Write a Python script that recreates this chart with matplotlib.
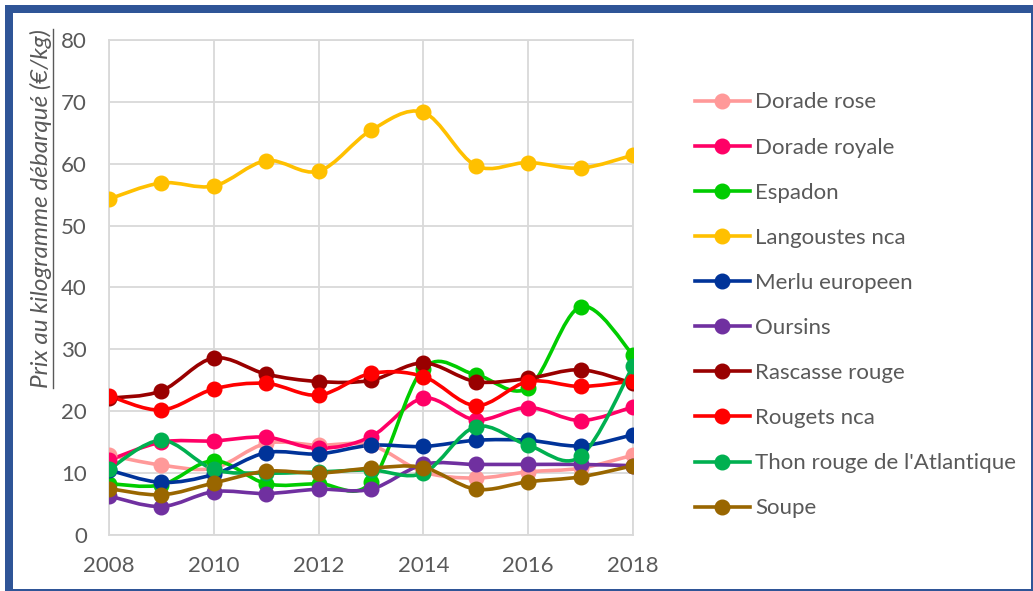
import numpy as np
import matplotlib
matplotlib.use("Agg")
import matplotlib.pyplot as plt
from matplotlib.path import Path
from matplotlib.patches import PathPatch, Rectangle
from matplotlib.lines import Line2D

plt.rcParams['font.family'] = ['Lato', 'DejaVu Sans']

years = list(range(2008, 2019))

dorade_rose = [12.9, 11.3, 10.8, 14.8, 14.5, 14.5, 10.2, 9.2, 10.2, 10.8, 12.9]
dorade_royale = [12.1, 15.0, 15.2, 15.8, 14.0, 15.9, 22.1, 18.6, 20.6, 18.5, 20.7]
espadon = [8.3, 8.1, 12.0, 8.3, 8.3, 8.5, 26.9, 25.9, 23.8, 36.9, 29.1]
langoustes = [54.3, 56.9, 56.4, 60.5, 58.8, 65.4, 68.3, 59.7, 60.2, 59.3, 61.4]
merlu = [10.5, 8.5, 9.8, 13.3, 13.1, 14.5, 14.3, 15.3, 15.3, 14.4, 16.2]
oursins = [6.3, 4.6, 7.0, 6.7, 7.4, 7.4, 11.4, 11.4, 11.4, 11.4, 11.2]
rascasse = [22.1, 23.3, 28.6, 26.0, 24.8, 25.0, 27.8, 24.8, 25.3, 26.7, 24.5]
rougets = [22.5, 20.2, 23.6, 24.5, 22.6, 26.1, 25.6, 20.9, 24.8, 24.0, 24.9]
thon = [10.6, 15.3, 10.6, 10.0, 10.2, 10.5, 10.0, 17.5, 14.5, 12.7, 27.3]
soupe = [7.5, 6.5, 8.4, 10.3, 10.0, 10.8, 10.9, 7.4, 8.6, 9.4, 11.2]

labels = ["Dorade rose", "Dorade royale", "Espadon", "Langoustes nca",
          "Merlu europeen", "Oursins", "Rascasse rouge", "Rougets nca",
          "Thon rouge de l'Atlantique", "Soupe"]
series = [dorade_rose, dorade_royale, espadon, langoustes, merlu, oursins,
          rascasse, rougets, thon, soupe]
colors = ["#FF9999", "#FF0066", "#00CC00", "#FFC000", "#003399", "#7030A0",
          "#990000", "#FF0000", "#00B050", "#996600"]

txt = "#595959"
grid = "#D9D9D9"
frame = "#2F5597"
fs = 16


def smooth_path(x, y):
    # Excel-style smoothed line as cubic Bezier segments
    x = np.asarray(x, float)
    y = np.asarray(y, float)
    pts = np.column_stack([x, y])
    n = len(pts)
    verts = [pts[0]]
    codes = [Path.MOVETO]
    for i in range(n - 1):
        p0 = pts[i - 1] if i > 0 else pts[i]
        p1 = pts[i]
        p2 = pts[i + 1]
        p3 = pts[i + 2] if i + 2 < n else pts[i + 1]
        c1 = p1 + (p2 - p0) / 6.0
        c2 = p2 - (p3 - p1) / 6.0
        verts += [c1, c2, p2]
        codes += [Path.CURVE4] * 3
    return Path(verts, codes)


W, H = 1033, 591
fig = plt.figure(figsize=(W / 100, H / 100), dpi=100)
ax = fig.add_axes([0.1055, 0.0948, 0.5073, 0.8375])

for vals, c, lab in zip(series, colors, labels):
    ax.add_patch(PathPatch(smooth_path(years, vals), facecolor="none",
                           edgecolor=c, lw=2.6, capstyle="round",
                           joinstyle="round", zorder=3))
    ax.plot(years, vals, linestyle="none", marker="o", ms=10.5,
            color=c, zorder=4)

ax.set_xlim(2008, 2018)
ax.set_ylim(0, 80)
ax.set_xticks(range(2008, 2019, 2))
ax.set_yticks(range(0, 81, 10))
ax.grid(True, color=grid, lw=1.3)
ax.set_axisbelow(True)
for s in ax.spines.values():
    s.set_color(grid)
    s.set_linewidth(1.3)
ax.tick_params(length=0, labelsize=fs, colors=txt)
ax.tick_params(axis="y", pad=16)
ax.tick_params(axis="x", pad=15)
for t in ax.get_xticklabels() + ax.get_yticklabels():
    t.set_clip_on(False)

ylab = ax.set_ylabel("Prix au kilogramme débarqué (€/kg)", fontsize=17.5,
                     color=txt, style="italic")
ax.yaxis.set_label_coords(-0.108, 0.659)

handles = [Line2D([], [], color=c, lw=2.6, marker="o", ms=10.5) for c in colors]
fig.legend(handles, labels, loc="upper left", bbox_to_anchor=(0.673, 0.8435),
           frameon=False, fontsize=fs, labelcolor=txt, labelspacing=1.13,
           handlelength=2.45, handletextpad=0.25, borderaxespad=0,
           borderpad=0)

# underline for the rotated axis label
fig.canvas.draw()
bb = ylab.get_window_extent().transformed(fig.transFigure.inverted())
fig.add_artist(Line2D([bb.x1 + 0.001, bb.x1 + 0.001], [bb.y0, bb.y1],
                      color=txt, lw=1.0, transform=fig.transFigure))

# frame bands (pixel boxes: left, top, right, bottom)
bands = [(5, 5, 8, 586), (5, 5, 1028, 8), (1031, 5, 2, 586), (5, 589, 1028, 2)]
for x, y, w, h in bands:
    fig.add_artist(Rectangle((x / W, 1 - (y + h) / H), w / W, h / H,
                             transform=fig.transFigure, facecolor=frame,
                             edgecolor="none"))

fig.savefig("out.png", dpi=100)
